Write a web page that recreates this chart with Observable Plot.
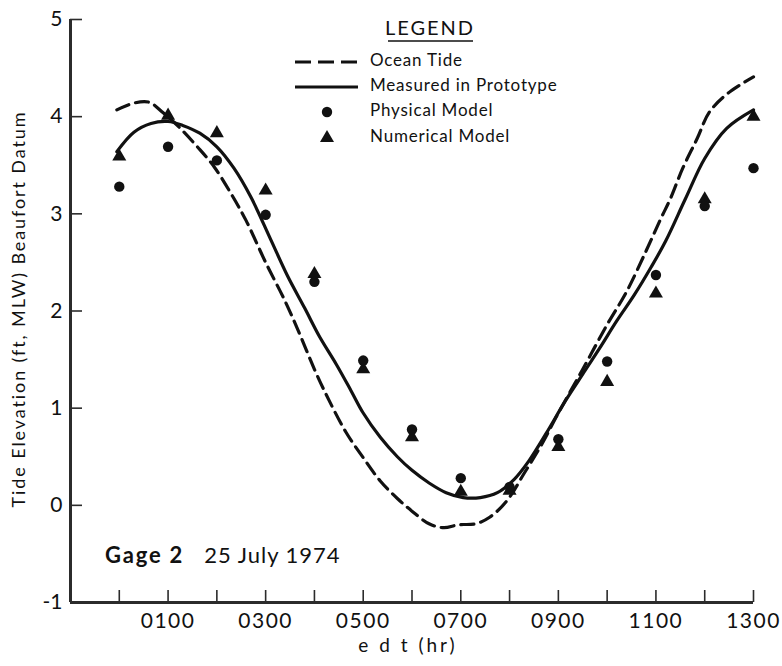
<!DOCTYPE html>
<html><head><meta charset="utf-8">
<script src="https://cdn.jsdelivr.net/npm/d3@7"></script>
<script src="https://cdn.jsdelivr.net/npm/@observablehq/plot@0.6"></script>
<style>
body{margin:0;background:#fff}
#chart{position:relative;width:782px;height:666px;background:#fff}
#chart svg{font-family:Lato,'DejaVu Sans',sans-serif}
</style>
</head><body><div id="chart"></div>
<script>
// ---- data ----
const hours = [0,1,2,3,4,5,6,7,8,9,10,11,12,13];
const physicalModel  = [3.28,3.69,3.55,2.99,2.30,1.49,0.78,0.28,0.19,0.68,1.48,2.37,3.08,3.47];
const numericalModel = [3.59,4.01,3.83,3.24,2.38,1.40,0.70,0.14,0.15,0.60,1.27,2.18,3.15,4.00];

const oceanTideHours  = [-0.05,0.3,0.6,0.9,1.25,1.6,1.95,2.3,2.6,3.0,3.4,3.7,4.0,4.3,4.65,5.0,5.35,5.7,6.0,6.35,6.65,6.95,7.3,7.6,7.95,8.3,8.65,9.0,9.5,10.0,10.4,10.8,11.1,11.3,11.55,11.85,12.1,12.5,13.0];
const oceanTideValues = [4.07,4.14,4.15,4.04,3.88,3.69,3.48,3.20,2.93,2.50,2.10,1.76,1.40,1.08,0.75,0.49,0.25,0.07,-0.06,-0.19,-0.23,-0.20,-0.19,-0.12,0.05,0.33,0.62,0.95,1.40,1.86,2.20,2.62,2.95,3.16,3.47,3.78,4.05,4.25,4.41];

const prototypeHours  = [-0.05,0.3,0.65,1.0,1.3,1.65,2.0,2.35,2.7,3.1,3.45,3.8,4.1,4.45,4.75,5.0,5.35,5.7,6.0,6.35,6.7,7.05,7.4,7.75,8.1,8.4,8.75,9.15,9.5,9.85,10.2,10.55,10.9,11.2,11.6,12.0,12.45,13.0];
const prototypeValues = [3.64,3.84,3.93,3.95,3.91,3.83,3.69,3.47,3.17,2.74,2.36,2.03,1.74,1.45,1.18,0.95,0.70,0.50,0.36,0.23,0.13,0.08,0.08,0.13,0.27,0.46,0.74,1.08,1.35,1.62,1.90,2.16,2.45,2.72,3.15,3.57,3.88,4.07];

const yTicks = [-1,0,1,2,3,4,5];
const xTicks = hours;
const xLabelTicks = [1,3,5,7,9,11,13];
const legendLabels = ["Ocean Tide","Measured in Prototype","Physical Model","Numerical Model"];

const ocean = oceanTideHours.map((h,i)=>({h, v: oceanTideValues[i]}));
const proto = prototypeHours.map((h,i)=>({h, v: prototypeValues[i]}));
const phys = hours.map((h,i)=>({h, v: physicalModel[i]}));
const numr = hours.map((h,i)=>({h, v: numericalModel[i]}));

const ink = "#111111";
const axisInk = "#2b2b2b";
const font = "Lato, 'DejaVu Sans', sans-serif";
const xMin = -1, xMax = 13, yMin = -1, yMax = 5;

const chart = Plot.plot({
  width: 782, height: 666,
  marginLeft: 70, marginRight: 29, marginTop: 19, marginBottom: 64,
  x: {domain: [xMin, xMax]},
  y: {domain: [yMin, yMax]},
  marks: [
    // tick labels
    Plot.axisX({ticks: xLabelTicks, tickSize: 0, tickPadding: 11, fontSize: 21, fill: ink, tickFormat: d => String(d).padStart(2,"0") + "00", label: null}),
    Plot.axisY({ticks: yTicks, tickSize: 0, tickPadding: 8, fontSize: 21, fill: ink, tickFormat: d => String(d), label: null}),
    // data
    Plot.line(ocean, {x:"h", y:"v", curve:"catmull-rom", stroke: ink, strokeWidth: 3.2, strokeDasharray: "13,7"}),
    Plot.line(proto, {x:"h", y:"v", curve:"catmull-rom", stroke: ink, strokeWidth: 3.2}),
    Plot.dot(numr, {x:"h", y:"v", symbol:"triangle", r: 5.2, fill: ink, stroke: "none"}),
    Plot.dot(phys, {x:"h", y:"v", symbol:"circle", r: 5.2, fill: ink, stroke: "none"}),
    // inward tick marks (axis ticks shifted inside the frame)
    Plot.axisX({ticks: xTicks, tickSize: 12, dy: -12, tickFormat: () => "", stroke: axisInk, strokeWidth: 1.6, label: null}),
    Plot.axisY({ticks: yTicks, tickSize: 12, dx: 12, tickFormat: () => "", stroke: axisInk, strokeWidth: 1.6, label: null}),
    // axis lines
    Plot.ruleX([xMin], {stroke: axisInk, strokeWidth: 3}),
    Plot.ruleY([yMin], {stroke: axisInk, strokeWidth: 3.2})
  ]
});

const svg = d3.select(chart);
svg.selectAll("g[aria-label='x-axis tick label'] text").style("letter-spacing","1.5px");

// axis titles
svg.append("text").attr("transform","translate(20,309) rotate(-90)")
  .attr("text-anchor","middle").attr("dominant-baseline","middle")
  .style("font-family",font).style("font-size","18px").style("letter-spacing","1.9px").attr("fill",ink)
  .text("Tide Elevation (ft, MLW) Beaufort Datum");
svg.append("text").attr("x",408).attr("y",652)
  .attr("text-anchor","middle")
  .style("font-family",font).style("font-size","19px").style("letter-spacing","3px").attr("fill",ink)
  .text("e d t (hr)");

// annotation
const ann = svg.append("text").attr("x",105).attr("y",563).attr("text-anchor","start").style("font-family",font).attr("fill",ink);
ann.append("tspan").style("font-weight","bold").style("font-size","22px").style("letter-spacing","1.8px").text("Gage 2");
ann.append("tspan").attr("dx",20).style("font-size","22px").style("letter-spacing","1px").text("25 July 1974");

// legend
const lg = svg.append("g").style("font-family",font).attr("fill",ink);
lg.append("text").attr("x",430).attr("y",35).attr("text-anchor","middle")
  .style("font-size","20px").style("letter-spacing","2px").text("LEGEND");
lg.append("line").attr("x1",388).attr("x2",473).attr("y1",41).attr("y2",41).attr("stroke",ink).attr("stroke-width",1.5);
const rowY = [62, 87, 112, 138];
lg.append("line").attr("x1",295).attr("x2",358).attr("y1",rowY[0]).attr("y2",rowY[0]).attr("stroke",ink).attr("stroke-width",3.2).attr("stroke-dasharray","16,7");
lg.append("line").attr("x1",295).attr("x2",358).attr("y1",rowY[1]).attr("y2",rowY[1]).attr("stroke",ink).attr("stroke-width",3.2);
lg.append("path").attr("transform",`translate(327,${rowY[2]})`).attr("d", d3.symbol(d3.symbolCircle, Math.PI*5.2*5.2)()).attr("fill",ink);
lg.append("path").attr("transform",`translate(327,${rowY[3]})`).attr("d", d3.symbol(d3.symbolTriangle, Math.PI*5.2*5.2)()).attr("fill",ink);
legendLabels.forEach((t,i)=>{
  lg.append("text").attr("x",370).attr("y",rowY[i]).attr("text-anchor","start").attr("dominant-baseline","middle")
    .style("font-size","17px").style("letter-spacing","0.8px").text(t);
});

document.getElementById("chart").appendChild(chart);
</script>
</body></html>
